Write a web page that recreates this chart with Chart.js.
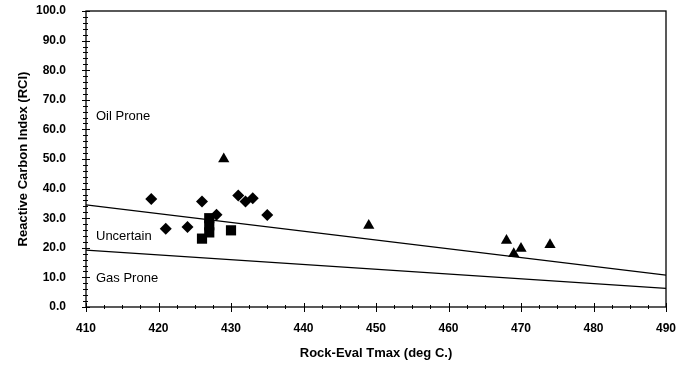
<!DOCTYPE html>
<html>
<head>
<meta charset="utf-8">
<script src="https://cdn.jsdelivr.net/npm/chart.js@4"></script>
<style>
  html, body { margin: 0; padding: 0; background: #fff; }
  #wrap { width: 698px; height: 366px; }
</style>
</head>
<body>
<div id="wrap"><canvas id="rciChart" width="698" height="366"></canvas></div>
<script>
// data
const diamondX = [419, 421, 424, 426, 428, 431, 432, 433, 435];
const diamondY = [36.5, 26.4, 27.0, 35.6, 31.2, 37.7, 35.6, 36.7, 31.1];
const squareX = [426, 427, 427, 427, 430];
const squareY = [23.1, 30.0, 27.6, 25.2, 25.9];
const triangleX = [429, 449, 468, 469, 470, 474];
const triangleY = [50.0, 27.5, 22.5, 18.0, 19.8, 21.0];
const upperLineX = [410, 490];
const upperLineY = [34.5, 10.8];
const lowerLineX = [410, 490];
const lowerLineY = [19.2, 6.3];
const zoneLabels = ['Oil Prone', 'Uncertain', 'Gas Prone'];
const zoneLabelY = [64.5, 24, 9.7];

function toPoints(xs, ys) {
    return xs.map((x, i) => ({ x: x, y: ys[i] }));
}

const FONT = '"Liberation Sans", Arial, sans-serif';

// box, minor ticks and zone labels
const decor = {
    id: 'decor',
    afterDraw(chart) {
        const c = chart.ctx;
        const a = chart.chartArea;
        const xs = chart.scales.x, ys = chart.scales.y;
        c.save();
        c.strokeStyle = '#000';
        c.lineWidth = 1.3;
        c.strokeRect(a.left, a.top, a.right - a.left, a.bottom - a.top);

        c.lineWidth = 1;
        for (let v = 0; v <= 100; v += 2) {
            const p = Math.round(ys.getPixelForValue(v)) + 0.5;
            const major = v % 10 === 0;
            c.beginPath();
            c.moveTo(a.left - (major ? 4 : 3), p);
            c.lineTo(a.left + (major ? 4 : 2), p);
            c.stroke();
        }
        for (let v = 410; v <= 490; v += 2.5) {
            const p = Math.round(xs.getPixelForValue(v)) + 0.5;
            const major = v % 10 === 0;
            c.beginPath();
            c.moveTo(p, a.bottom + (major ? 5 : 2));
            c.lineTo(p, a.bottom - (major ? 4 : 2));
            c.stroke();
        }

        c.fillStyle = '#000';
        c.font = '13px ' + FONT;
        c.textAlign = 'left';
        c.textBaseline = 'middle';
        zoneLabels.forEach((t, i) => {
            c.fillText(t, a.left + 10, ys.getPixelForValue(zoneLabelY[i]));
        });
        c.restore();
    }
};

const ctx = document.getElementById('rciChart').getContext('2d');
new Chart(ctx, {
    type: 'scatter',
    data: {
        datasets: [
            {
                data: toPoints(upperLineX, upperLineY),
                showLine: true, borderColor: '#000', borderWidth: 1.2,
                pointRadius: 0
            },
            {
                data: toPoints(lowerLineX, lowerLineY),
                showLine: true, borderColor: '#000', borderWidth: 1.2,
                pointRadius: 0
            },
            {
                data: toPoints(diamondX, diamondY),
                pointStyle: 'rectRot', pointRadius: 6,
                backgroundColor: '#000', borderColor: '#000', borderWidth: 0
            },
            {
                data: toPoints(squareX, squareY),
                pointStyle: 'rect', pointRadius: 7.2,
                backgroundColor: '#000', borderColor: '#000', borderWidth: 0
            },
            {
                data: toPoints(triangleX, triangleY),
                pointStyle: 'triangle', pointRadius: 6.5,
                backgroundColor: '#000', borderColor: '#000', borderWidth: 0
            }
        ]
    },
    options: {
        responsive: false,
        animation: false,
        layout: { padding: { left: 12, right: 32, top: 11, bottom: 1 } },
        plugins: {
            legend: { display: false },
            tooltip: { enabled: false }
        },
        scales: {
            x: {
                type: 'linear', min: 410, max: 490,
                grid: { display: false },
                border: { display: false },
                ticks: {
                    stepSize: 10, color: '#000', padding: 6,
                    font: { family: FONT, size: 12, weight: 'bold' }
                },
                title: {
                    display: true, text: 'Rock-Eval Tmax (deg C.)', color: '#000',
                    font: { family: FONT, size: 13, weight: 'bold' },
                    padding: { top: 10 }
                },
                afterFit(s) { s.height = 58; }
            },
            y: {
                type: 'linear', min: 0, max: 100,
                grid: { display: false },
                border: { display: false },
                ticks: {
                    stepSize: 10, color: '#000', padding: 12,
                    callback: v => v.toFixed(1),
                    font: { family: FONT, size: 12, weight: 'bold' }
                },
                title: {
                    display: true, text: 'Reactive Carbon Index (RCI)', color: '#000',
                    font: { family: FONT, size: 13, weight: 'bold' }
                },
                afterFit(s) { s.width = 74; s.paddingTop = 0; }
            }
        }
    },
    plugins: [decor]
});
</script>
</body>
</html>
